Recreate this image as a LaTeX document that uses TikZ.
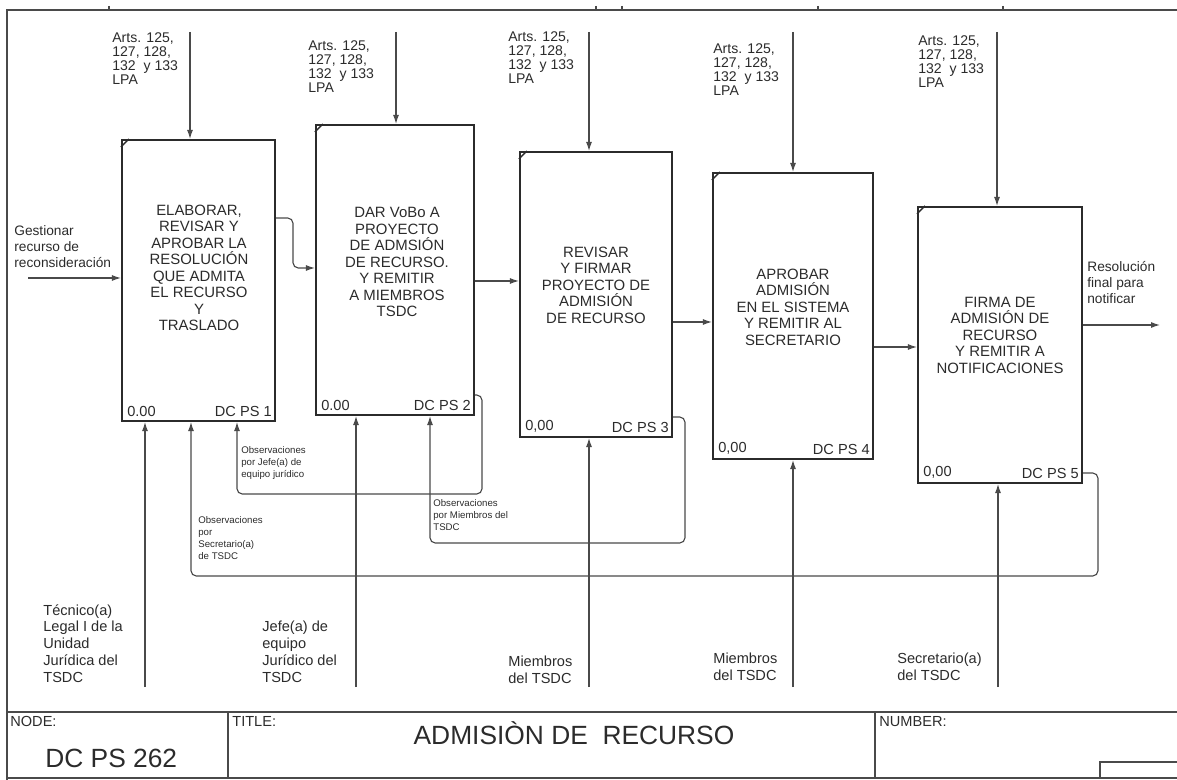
\documentclass[tikz,border=0pt]{standalone}
\usepackage{fontspec}
\setmainfont{Liberation Sans}
\usetikzlibrary{arrows.meta,calc}
\definecolor{ink}{HTML}{2b2b2b}
\definecolor{wire}{HTML}{4a4a4a}

\begin{document}
\begin{tikzpicture}[
  x=0.02cm, y=-0.02cm,
  every node/.style={text=ink, inner sep=0pt},
  actbox/.style={draw=ink, line width=1.2pt, rectangle},
  boxtxt/.style={font=\fontsize{8.5}{9.4}\selectfont, align=center},
  arts/.style={font=\fontsize{8}{8}\selectfont, align=left, anchor=north west},
  lbl/.style={font=\fontsize{7.8}{9.2}\selectfont, align=left, anchor=north west},
  obs/.style={font=\fontsize{5.5}{6.8}\selectfont, align=left, anchor=north west},
  corner/.style={font=\fontsize{8.3}{9}\selectfont},
  flow/.style={draw=wire, line width=0.65pt, -{Latex[length=1.8mm,width=1.2mm]}},
  loop/.style={flow, rounded corners=3pt},
  frame/.style={draw=wire, line width=0.6pt}
]
  \useasboundingbox (0,0) rectangle (1177,780);

  % sheet frame and title block
  \draw[frame] (7,780) -- (7,10) -- (1177,10);
  \foreach \x in {109,596,622,818,1003}
    \draw[frame] (\x,6) -- (\x,10);
  \draw[frame] (7,712) -- (1177,712);
  \draw[frame] (7,778) -- (1177,778);
  \draw[frame] (228,712) -- (228,778);
  \draw[frame] (875,712) -- (875,778);
  \draw[frame] (1100,778) -- (1100,762) -- (1177,762);

  \node[corner, anchor=north west] (nodelbl) at (10,716) {NODE:};
  \node[font=\fontsize{15}{16}\selectfont, anchor=west] (nodeno) at (45,758) {DC PS 262};
  \node[corner, anchor=north west] (titlelbl) at (232,716) {TITLE:};
  \node[font=\fontsize{15}{16}\selectfont] (title) at (574,733) {ADMISIÒN DE\ \ RECURSO};
  \node[corner, anchor=north west] (numlbl) at (879,716) {NUMBER:};

  % activity boxes
  \node[actbox, minimum width=3.06cm, minimum height=5.62cm] (a1) at (198.5,280.5) {};
  \node[actbox, minimum width=3.16cm, minimum height=5.80cm] (a2) at (395,270) {};
  \node[actbox, minimum width=3.04cm, minimum height=5.70cm] (a3) at (596,294.5) {};
  \node[actbox, minimum width=3.20cm, minimum height=5.72cm] (a4) at (793,316) {};
  \node[actbox, minimum width=3.28cm, minimum height=5.52cm] (a5) at (1000,345) {};

  \node[boxtxt] (t1) at (199,268) {ELABORAR,\\REVISAR Y\\APROBAR LA\\RESOLUCIÓN\\QUE ADMITA\\EL RECURSO\\Y\\TRASLADO};
  \node[boxtxt] (t2) at (397,262) {DAR VoBo A\\PROYECTO\\DE ADMSIÓN\\DE RECURSO.\\Y REMITIR\\A MIEMBROS\\TSDC};
  \node[boxtxt] (t3) at (596,285) {REVISAR\\Y FIRMAR\\PROYECTO DE\\ADMISIÓN\\DE RECURSO};
  \node[boxtxt] (t4) at (793,307) {APROBAR\\ADMISIÓN\\EN EL SISTEMA\\Y REMITIR AL\\SECRETARIO};
  \node[boxtxt] (t5) at (1000,335) {FIRMA DE\\ADMISIÓN DE\\RECURSO\\Y REMITIR A\\NOTIFICACIONES};

  % corner marks and box numbers
  \foreach \b/\n/\z in {a1/1/0.00, a2/2/0.00, a3/3/{0,00}, a4/4/{0,00}, a5/5/{0,00}} {
    \draw[draw=ink, line width=0.8pt] ([shift={(0,8)}]\b.north west) -- ([shift={(8,0)}]\b.north west);
    \node[corner, anchor=south west] (z\n) at ([shift={(6,-5)}]\b.south west) {\z};
    \node[corner, anchor=south east] (k\n) at ([shift={(-4,-5)}]\b.south east) {DC PS \n};
  }

  % controls
  \node[arts] (r1) at (112,32) {Arts. 125,\\127, 128,\\132\ \ y 133\\LPA};
  \node[arts] (r2) at (308,40) {Arts. 125,\\127, 128,\\132\ \ y 133\\LPA};
  \node[arts] (r3) at (508,31) {Arts. 125,\\127, 128,\\132\ \ y 133\\LPA};
  \node[arts] (r4) at (713,43) {Arts. 125,\\127, 128,\\132\ \ y 133\\LPA};
  \node[arts] (r5) at (918,35) {Arts. 125,\\127, 128,\\132\ \ y 133\\LPA};
  \coordinate (c1) at (190,32);
  \coordinate (c2) at (396,32);
  \coordinate (c3) at (589,32);
  \coordinate (c4) at (793,32);
  \coordinate (c5) at (997,32);
  \foreach \i in {1,...,5}
    \draw[flow] (c\i) -- (c\i |- a\i.north);

  % input and output
  \node[lbl] (inlbl) at (14,225) {Gestionar\\recurso de\\reconsideración};
  \coordinate (in1) at (28,278);
  \draw[flow] (in1) -- (in1 -| a1.west);
  \node[lbl] (outlbl) at (1087,261) {Resolución\\final para\\notificar};
  \coordinate (out1) at (1160,325);
  \draw[flow] (a5.east |- out1) -- (out1);

  % box to box
  \draw[loop] (a1.east |- 0,218) -- (293,218) -- (293,268) -- (a2.west |- 0,268);
  \draw[flow] (a2.east |- 0,281) -- (a3.west |- 0,281);
  \draw[flow] (a3.east |- 0,322) -- (a4.west |- 0,322);
  \draw[flow] (a4.east |- 0,347) -- (a5.west |- 0,347);

  % feedback
  \draw[loop] (a2.east |- 0,395) -- (482,395) -- (482,494) -- (237,494) -- (237,0 |- a1.south);
  \draw[loop] (a3.east |- 0,417) -- (685,417) -- (685,543) -- (430,543) -- (430,0 |- a2.south);
  \draw[loop] (a5.east |- 0,473) -- (1098,473) -- (1098,576) -- (191,576) -- (191,0 |- a1.south);
  \node[obs] (o1) at (241,446) {Observaciones\\por Jefe(a) de\\equipo jurídico};
  \node[obs] (o2) at (433,499) {Observaciones\\por Miembros del\\TSDC};
  \node[obs] (o3) at (198,516) {Observaciones\\por\\Secretario(a)\\de TSDC};

  % mechanisms
  \coordinate (m1) at (145,687);
  \coordinate (m2) at (356,687);
  \coordinate (m3) at (589,687);
  \coordinate (m4) at (793,687);
  \coordinate (m5) at (998,687);
  \foreach \i in {1,...,5}
    \draw[flow] (m\i) -- (m\i |- a\i.south);
  \node[lbl, font=\fontsize{8.3}{9.6}\selectfont] (p1) at (43,604) {Técnico(a)\\Legal I de la\\Unidad\\Jurídica del\\TSDC};
  \node[lbl, font=\fontsize{8.3}{9.6}\selectfont] (p2) at (262,621) {Jefe(a) de\\equipo\\Jurídico del\\TSDC};
  \node[lbl, font=\fontsize{8.3}{9.6}\selectfont] (p3) at (508,656) {Miembros\\del TSDC};
  \node[lbl, font=\fontsize{8.3}{9.6}\selectfont] (p4) at (713,653) {Miembros\\del TSDC};
  \node[lbl, font=\fontsize{8.3}{9.6}\selectfont] (p5) at (897,653) {Secretario(a)\\del TSDC};
\end{tikzpicture}
\end{document}
